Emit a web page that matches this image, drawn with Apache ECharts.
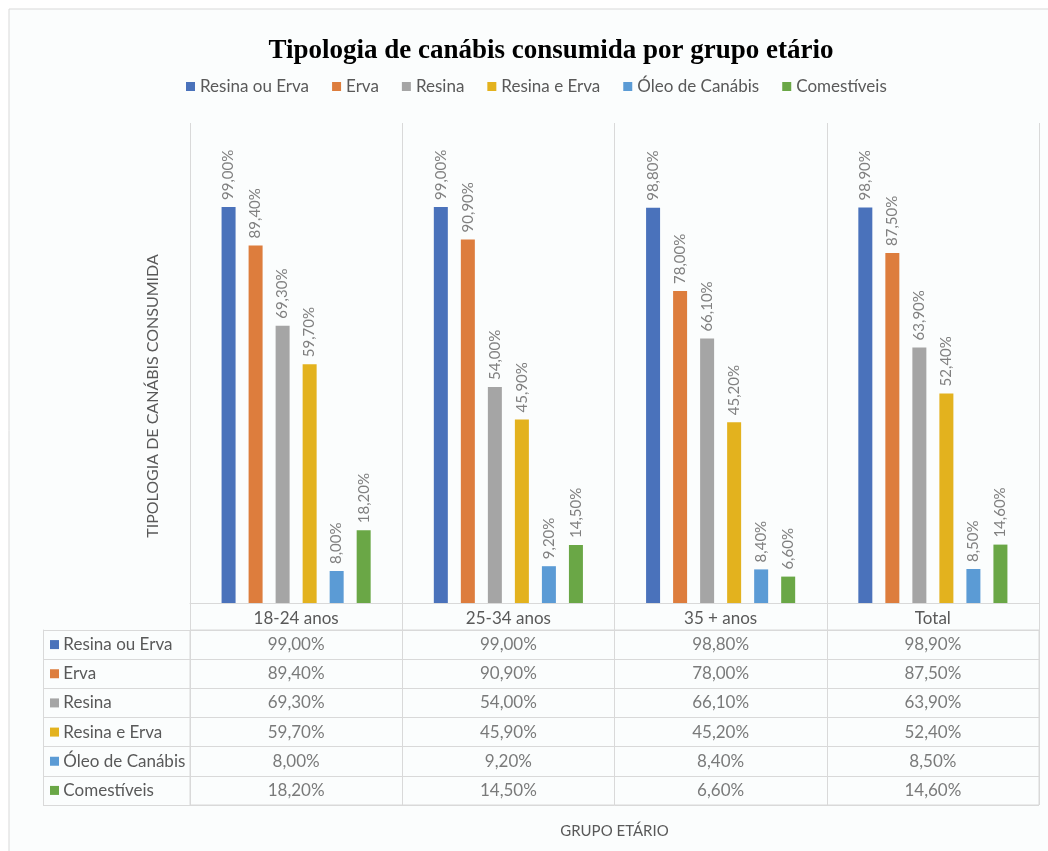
<!DOCTYPE html>
<html>
<head>
<meta charset="utf-8">
<script src="https://cdn.jsdelivr.net/npm/echarts@6/dist/echarts.min.js"></script>
<style>
html,body{margin:0;padding:0;background:#ffffff;}
#chart{width:1048px;height:851px;}
</style>
</head>
<body>
<div id="chart"></div>
<script>
const categories = ['18-24 anos', '25-34 anos', '35 + anos', 'Total'];
const seriesNames = ['Resina ou Erva', 'Erva', 'Resina', 'Resina e Erva', 'Óleo de Canábis', 'Comestíveis'];
const resinaOuErva = [99.0, 99.0, 98.8, 98.9];
const erva = [89.4, 90.9, 78.0, 87.5];
const resina = [69.3, 54.0, 66.1, 63.9];
const resinaEErva = [59.7, 45.9, 45.2, 52.4];
const oleoDeCanabis = [8.0, 9.2, 8.4, 8.5];
const comestiveis = [18.2, 14.5, 6.6, 14.6];
const seriesValues = [resinaOuErva, erva, resina, resinaEErva, oleoDeCanabis, comestiveis];
const colors = ['#4a72bb', '#dd7d3d', '#a5a5a5', '#e3b21e', '#5b9bd5', '#6aa746'];

const FONT = 'Lato';
const fmt = v => v.toFixed(2).replace('.', ',') + '%';
const lineColor = '#d9d9d9';

const chart = echarts.init(document.getElementById('chart'));

const barSeries = seriesNames.map((name, i) => ({
  name: name,
  type: 'bar',
  xAxisIndex: 0,
  yAxisIndex: 0,
  barWidth: 14,
  barGap: '93%',
  itemStyle: { color: colors[i] },
  label: {
    show: true,
    position: 'top',
    rotate: 90,
    align: 'left',
    verticalAlign: 'middle',
    distance: 7,
    color: '#808080',
    fontFamily: FONT,
    fontSize: 15,
    formatter: p => fmt(p.value)
  },
  data: seriesValues[i]
}));

const tableData = [];
seriesValues.forEach((vals, si) => {
  vals.forEach((v, ci) => tableData.push([ci, si, v]));
});

const rich = { t: { fontFamily: FONT, fontSize: 17, color: '#595959' } };
colors.forEach((c, i) => { rich['m' + i] = { width: 9, height: 9, backgroundColor: c }; });

chart.setOption({
  animation: false,
  backgroundColor: '#ffffff',
  title: {
    text: 'Tipologia de canábis consumida por grupo etário',
    left: 546,
    top: 33,
    textAlign: 'center',
    textStyle: { fontFamily: 'Liberation Serif', fontWeight: 'bold', fontSize: 27, color: '#000000' }
  },
  legend: {
    data: seriesNames,
    left: 186,
    top: 78,
    padding: 0,
    itemWidth: 9,
    itemHeight: 9,
    itemGap: 23,
    icon: 'rect',
    textStyle: { fontFamily: FONT, fontSize: 17, color: '#595959' }
  },
  graphic: [
    { type: 'rect', shape: { x: 9, y: 9, width: 1200, height: 1000 }, style: { fill: '#fbfdfd', stroke: '#d9d9d9', lineWidth: 1 }, z: -10, silent: true },
    { type: 'text', x: 153, y: 396, rotation: Math.PI / 2, style: { text: 'TIPOLOGIA DE CANÁBIS CONSUMIDA', align: 'center', verticalAlign: 'middle', fontFamily: FONT, fontSize: 16, fill: '#595959' }, silent: true }
  ],
  grid: [
    { left: 190, right: 9, top: 123, bottom: 248, containLabel: false },
    { left: 190, right: 9, top: 630, bottom: 46, show: true, borderColor: lineColor, borderWidth: 1, backgroundColor: 'transparent' }
  ],
  xAxis: [
    {
      type: 'category', gridIndex: 0, data: categories, position: 'bottom',
      axisLine: { show: true, lineStyle: { color: lineColor, width: 1 } },
      axisTick: { show: true, length: 27, lineStyle: { color: lineColor } },
      splitLine: { show: true, lineStyle: { color: lineColor } },
      axisLabel: { margin: 7, fontFamily: FONT, fontSize: 17, color: '#595959' }
    },
    {
      type: 'category', gridIndex: 1, data: categories, position: 'bottom',
      axisLine: { show: false }, axisTick: { show: false }, axisLabel: { show: false },
      splitLine: { show: true, lineStyle: { color: lineColor } },
      name: 'GRUPO ETÁRIO', nameLocation: 'middle', nameGap: 19,
      nameTextStyle: { fontFamily: FONT, fontSize: 15, color: '#595959' }
    }
  ],
  yAxis: [
    { type: 'value', gridIndex: 0, min: 0, max: 120, show: false },
    {
      type: 'category', gridIndex: 1, data: seriesNames, inverse: true, position: 'left',
      axisLine: { show: true, lineStyle: { color: lineColor } },
      axisTick: { show: true, length: 147, lineStyle: { color: lineColor } },
      splitLine: { show: true, lineStyle: { color: lineColor } },
      axisLabel: {
        align: 'left', margin: 140,
        formatter: (val, idx) => '{m' + idx + '|}{t| ' + val + '}',
        rich: rich
      }
    },
    {
      type: 'category', gridIndex: 1, data: seriesNames, inverse: true, position: 'left', offset: 147,
      axisLine: { show: true, lineStyle: { color: lineColor } },
      axisTick: { show: false }, axisLabel: { show: false }, splitLine: { show: false }
    }
  ],
  series: barSeries.concat([{
    name: 'tabela',
    type: 'scatter',
    xAxisIndex: 1,
    yAxisIndex: 1,
    symbolSize: 1,
    itemStyle: { color: 'transparent' },
    silent: true,
    label: {
      show: true, position: 'inside',
      fontFamily: FONT, fontSize: 17, color: '#595959',
      formatter: p => fmt(p.value[2])
    },
    data: tableData
  }])
});
</script>
</body>
</html>
